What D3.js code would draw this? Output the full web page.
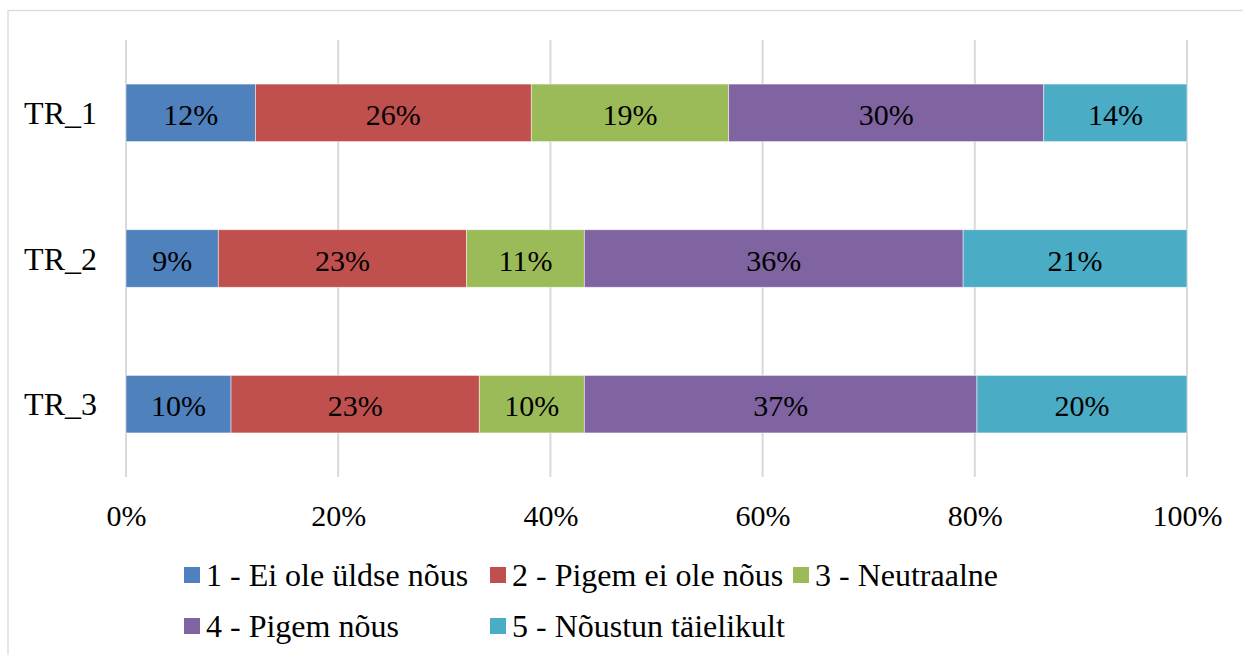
<!DOCTYPE html>
<html><head><meta charset="utf-8">
<script src="https://cdn.jsdelivr.net/npm/d3@7"></script>
<style>html,body{margin:0;padding:0;background:#fff;}svg{display:block;}</style>
</head><body>
<svg id="c" width="1243" height="655"></svg>
<script>
const categories = ["TR_1", "TR_2", "TR_3"];
const seriesNames = ["1 - Ei ole üldse nõus", "2 - Pigem ei ole nõus", "3 - Neutraalne", "4 - Pigem nõus", "5 - Nõustun täielikult"];
const s1 = [12.2, 8.7, 9.9];
const s2 = [26.0, 23.4, 23.4];
const s3 = [18.6, 11.1, 9.9];
const s4 = [29.7, 35.7, 37.0];
const s5 = [13.5, 21.1, 19.8];
const colors = ["#4F81BD", "#C0504D", "#9BBB59", "#8064A2", "#4BACC6"];
const ticks = [0, 20, 40, 60, 80, 100];

const FONT = '"Liberation Serif", "Times New Roman", Tinos, Times, serif';
const FS_NUM = 30;
const FS_TXT = 32;

const svg = d3.select("#c");
// frame
svg.append("rect").attr("x", 8).attr("y", 10.5).attr("width", 1260).attr("height", 700)
  .attr("fill", "none").attr("stroke", "#d9d9d9").attr("stroke-width", 1.3);

const x = d3.scaleLinear().domain([0, 100]).range([126, 1187]);
const y = d3.scaleBand().domain(categories).range([40, 477]).paddingInner(0.605).paddingOuter(0.3025);

// gridlines
svg.append("g").selectAll("line").data(ticks).join("line")
  .attr("x1", d => x(d)).attr("x2", d => x(d)).attr("y1", 40).attr("y2", 477)
  .attr("stroke", "#d9d9d9").attr("stroke-width", 2);

const seriesVals = [s1, s2, s3, s4, s5];
const rows = categories.map((c, i) => {
  const o = {cat: c};
  seriesNames.forEach((n, k) => o[n] = seriesVals[k][i]);
  return o;
});
const stack = d3.stack().keys(seriesNames)(rows);

const g = svg.append("g");
stack.forEach((layer, k) => {
  const lg = g.append("g");
  lg.selectAll("rect").data(layer).join("rect")
    .attr("x", d => x(d[0])).attr("width", d => x(d[1]) - x(d[0]))
    .attr("y", d => y(d.data.cat)).attr("height", y.bandwidth())
    .attr("fill", colors[k]).attr("stroke", "#fff").attr("stroke-opacity", 0.6).attr("stroke-width", 0.8);
  lg.selectAll("text").data(layer).join("text")
    .attr("x", d => (x(d[0]) + x(d[1])) / 2)
    .attr("y", d => y(d.data.cat) + y.bandwidth() / 2 + 12)
    .attr("text-anchor", "middle").attr("fill", "#000")
    .style("font-family", FONT).style("font-size", FS_NUM + "px")
    .text(d => Math.round(d[1] - d[0]) + "%");
});

// x axis labels
const xAxis = d3.axisBottom(x).tickValues(ticks).tickFormat(d => d + "%").tickSize(0).tickPadding(0);
const xa = svg.append("g").attr("transform", "translate(0,526)").call(xAxis);
xa.select(".domain").remove();
xa.selectAll("text").style("font-size", FS_NUM + "px").style("font-family", FONT).attr("fill", "#000").attr("dy", 0);

// y axis labels
const yAxis = d3.axisLeft(y).tickSize(0).tickPadding(0);
const ya = svg.append("g").attr("transform", "translate(97,0)").call(yAxis);
ya.select(".domain").remove();
ya.selectAll("text").style("font-size", FS_TXT + "px").style("font-family", FONT).attr("fill", "#000").attr("dy", 11);

// legend
const legendPos = [[184, 567], [490, 567], [793, 567], [184, 618], [490, 618]];
const leg = svg.append("g");
seriesNames.forEach((n, k) => {
  const [lx, ly] = legendPos[k];
  leg.append("rect").attr("x", lx).attr("y", ly).attr("width", 16).attr("height", 16).attr("fill", colors[k]);
  leg.append("text").attr("x", lx + 22).attr("y", ly + 19).attr("fill", "#000")
    .style("font-size", FS_TXT + "px").style("font-family", FONT).text(n);
});
</script>
</body></html>
